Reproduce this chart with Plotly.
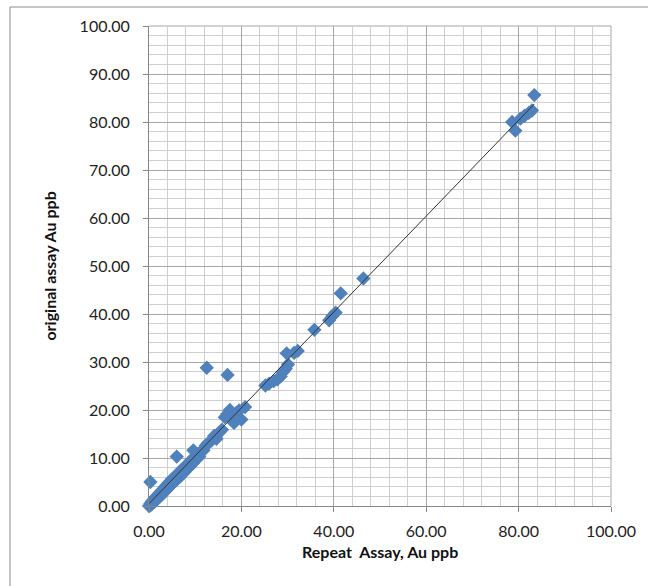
import numpy as np
import plotly.graph_objects as go

# Repeat assay (x) vs original assay (y), Au ppb
repeat_au = [
    0.0, 0.2, 0.3, 0.5, 0.6, 0.8, 0.9, 1.1, 1.2, 1.4, 1.5, 1.7, 1.9, 2.0, 2.2, 2.4,
    2.6, 2.8, 3.0, 3.2, 3.4, 3.6, 3.8, 4.0, 4.2, 4.4, 4.6, 4.8, 5.0, 5.2, 5.5, 5.7,
    5.9, 6.2, 6.4, 6.7, 7.0, 7.2, 7.5, 7.8, 8.0, 8.3, 8.6, 8.9, 9.2, 9.5, 9.8, 10.2,
    10.5, 10.9, 11.3, 11.8, 12.3,
    0.3, 6.0, 9.6,
    12.8, 13.5, 14.1, 14.6, 15.2, 15.8, 16.4, 17.0, 17.5, 18.0, 18.4, 18.9, 19.5, 20.0, 20.8,
    12.5, 17.0,
    25.2, 26.0, 27.0, 27.8, 28.5, 29.0, 29.6, 30.1, 29.8, 31.4, 32.2,
    35.8, 39.0, 39.7, 40.4, 41.5, 46.4,
    78.6, 79.3, 80.4, 81.3, 82.2, 82.9, 83.4,
]
original_au = [
    0.0, 0.1, 0.5, 0.3, 0.9, 0.6, 1.2, 0.8, 1.5, 1.1, 1.9, 1.4, 2.3, 1.7, 2.6, 2.0,
    3.0, 2.4, 3.4, 2.8, 3.9, 3.2, 4.3, 3.6, 4.8, 4.0, 5.1, 4.4, 5.6, 4.8, 6.0, 5.2,
    6.4, 5.7, 6.9, 6.1, 7.5, 6.6, 7.9, 7.2, 8.4, 7.8, 9.0, 8.3, 9.6, 8.9, 10.2, 9.7,
    10.8, 10.3, 11.4, 11.6, 12.6,
    5.0, 10.3, 11.6,
    13.1, 13.6, 14.6, 14.0, 15.3, 15.9, 18.5, 19.2, 20.0, 18.0, 17.3, 19.4, 19.9, 18.0, 20.6,
    28.8, 27.3,
    25.1, 25.5, 26.0, 26.4, 27.0, 27.9, 28.6, 29.5, 31.8, 31.9, 32.3,
    36.7, 38.7, 39.6, 40.3, 44.3, 47.4,
    80.0, 78.2, 80.7, 81.3, 81.9, 82.4, 85.6,
]

x_ticks = [0, 20, 40, 60, 80, 100]
y_ticks = [0, 10, 20, 30, 40, 50, 60, 70, 80, 90, 100]

# Linear trend line through the data, spanning the repeat-assay range
slope, intercept = np.polyfit(repeat_au, original_au, 1)
trend_x = [min(repeat_au), max(repeat_au)]
trend_y = [slope * v + intercept for v in trend_x]

# Plot-area geometry in pixels (used to place frame and titles in paper units)
W, H = 648, 586
L, R, T, B = 148.5, 32.5, 26, 80
pw, ph = W - L - R, H - T - B


def px_x(px):
    return (px - L) / pw


def px_y(py):
    return (H - B - py) / ph


fig = go.Figure()
fig.add_trace(go.Scatter(
    x=repeat_au, y=original_au, mode="markers", cliponaxis=False,
    marker=dict(symbol="diamond", size=11, color="#4F81BD", line=dict(width=0)),
    hoverinfo="x+y", showlegend=False,
))
fig.add_trace(go.Scatter(
    x=trend_x, y=trend_y, mode="lines",
    line=dict(color="#333333", width=1),
    hoverinfo="skip", showlegend=False,
))

tick_font = dict(family="Lato, Calibri, sans-serif", size=16, color="#222222")
title_font = dict(family="Lato, Calibri, sans-serif", size=16, color="#111111")

fig.update_layout(
    width=W, height=H,
    margin=dict(l=L, r=R, t=T, b=B),
    paper_bgcolor="white", plot_bgcolor="white",
    xaxis=dict(
        range=[0, 100], tickmode="array", tickvals=x_ticks,
        ticktext=[f"{v:.2f}" for v in x_ticks], tickfont=tick_font,
        showgrid=True, gridcolor="#a6a6a6", gridwidth=1,
        minor=dict(dtick=4, showgrid=True, gridcolor="#cfcfcf", gridwidth=1),
        zeroline=False, showline=True, linecolor="#868686", linewidth=1,
        ticks="outside", ticklen=5, tickcolor="#868686", ticklabelstandoff=6,
        fixedrange=True,
    ),
    yaxis=dict(
        range=[0, 100], tickmode="array", tickvals=y_ticks,
        ticktext=[f"{v:.2f}" for v in y_ticks], tickfont=tick_font,
        showgrid=True, gridcolor="#a6a6a6", gridwidth=1,
        minor=dict(dtick=2, showgrid=True, gridcolor="#cfcfcf", gridwidth=1),
        zeroline=False, showline=True, linecolor="#868686", linewidth=1,
        ticks="outside", ticklen=5, tickcolor="#868686", ticklabelstandoff=10,
        fixedrange=True,
    ),
    shapes=[
        # chart-area frame
        dict(type="rect", xref="paper", yref="paper",
             x0=px_x(8), x1=px_x(W + 20), y0=px_y(H + 20), y1=px_y(7),
             line=dict(color="#8c8c8c", width=1), fillcolor="rgba(0,0,0,0)",
             layer="below"),
        # right and top edges of the plot area
        dict(type="line", xref="paper", yref="paper", x0=1, x1=1, y0=0, y1=1,
             line=dict(color="#a6a6a6", width=1), layer="below"),
        dict(type="line", xref="paper", yref="paper", x0=0, x1=1, y0=1, y1=1,
             line=dict(color="#a6a6a6", width=1), layer="below"),
    ],
    annotations=[
        dict(text="<b>Repeat\u00a0 Assay, Au ppb</b>", xref="paper", yref="paper",
             x=0.5, y=px_y(551), xanchor="center", yanchor="middle",
             showarrow=False, font=title_font),
        dict(text="<b>original assay Au ppb</b>", xref="paper", yref="paper",
             x=px_x(47), y=0.5, xanchor="center", yanchor="middle",
             textangle=-90, showarrow=False, font=title_font),
    ],
)

fig.write_html("out.html")
